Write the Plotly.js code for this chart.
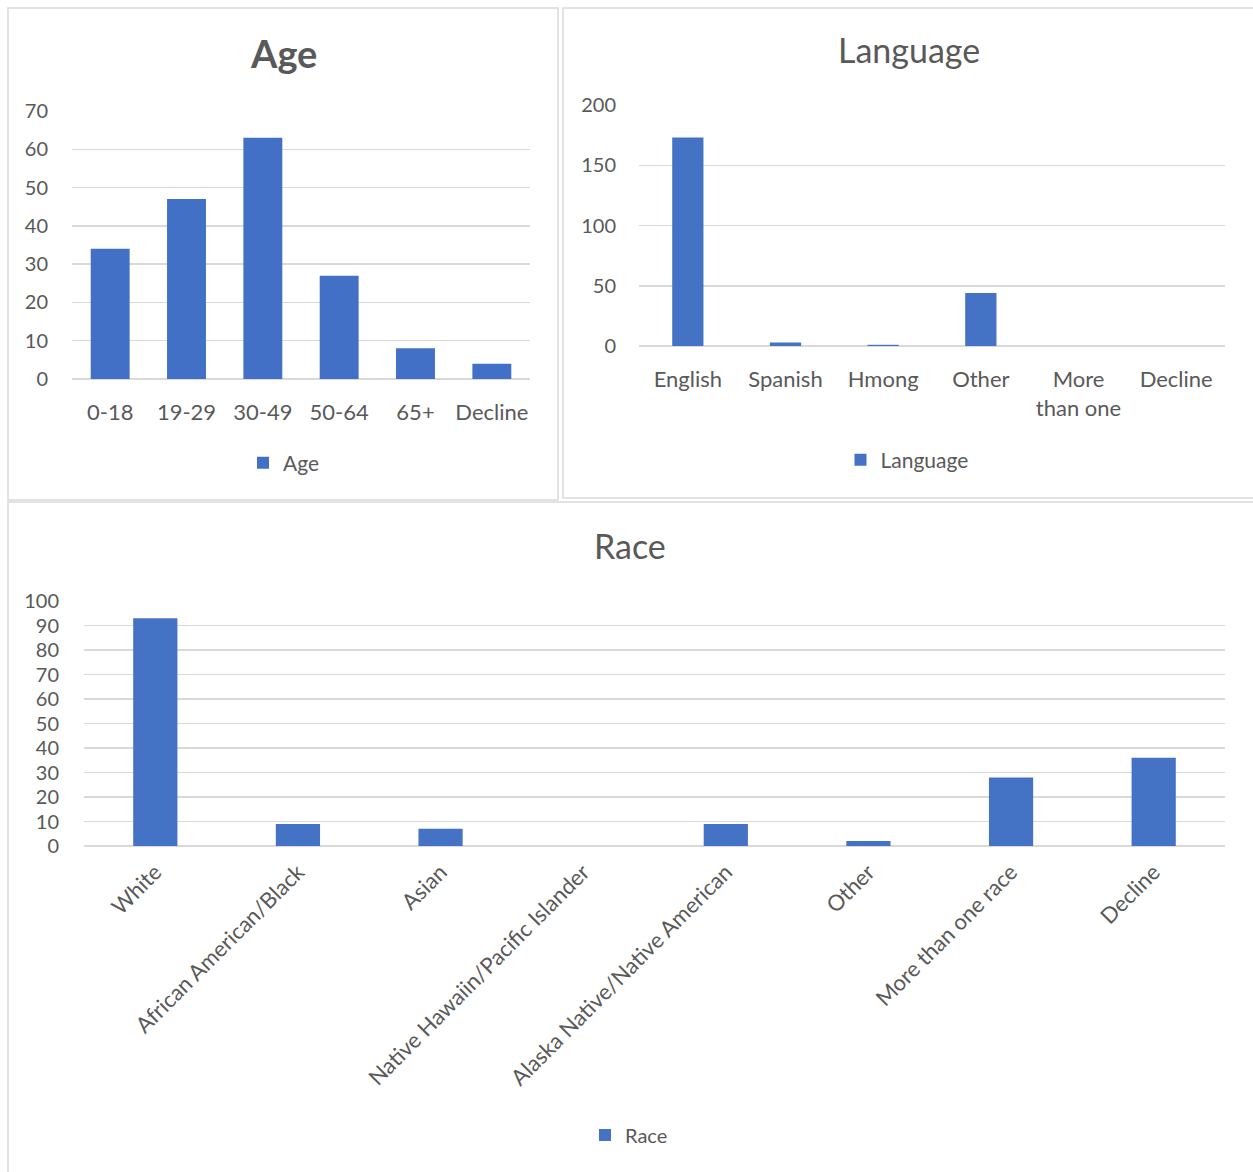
<!DOCTYPE html>
<html>
<head>
<meta charset="utf-8">
<script src="https://cdn.plot.ly/plotly-3.0.1.min.js"></script>
<style>
html,body{margin:0;padding:0;background:#fff;}
#chart{width:1253px;height:1172px;}
</style>
</head>
<body>
<div id="chart"></div>
<script>
// ---- data ----
const ageCategories = ["0-18", "19-29", "30-49", "50-64", "65+", "Decline"];
const ageValues = [34, 47, 63, 27, 8, 4];

const languageCategories = ["English", "Spanish", "Hmong", "Other", "More<br>than one", "Decline"];
const languageValues = [173, 3, 1, 44, 0, 0];

const raceCategories = ["White", "African American/Black", "Asian", "Native Hawaiin/Pacific Islander",
  "Alaska Native/Native American", "Other", "More than one race", "Decline"];
const raceValues = [93, 9, 7, 0, 9, 2, 28, 36];

// ---- layout helpers ----
const W = 1253, H = 1172;
const px = v => v / W;
const py = v => 1 - v / H;
const FONT = "Lato, 'Open Sans', sans-serif";
const TXT = "#595959";
const GRID = "#d9d9d9";
const BLUE = "#4472C4";

const traces = [
  {type: "bar", x: ageCategories, y: ageValues, name: "Age", xaxis: "x", yaxis: "y",
   marker: {color: "#4270c6", line: {width: 0}}, legend: "legend", hoverinfo: "x+y", width: 0.51},
  {type: "bar", x: languageCategories, y: languageValues, name: "Language", xaxis: "x2", yaxis: "y2",
   marker: {color: BLUE, line: {width: 0}}, legend: "legend2", hoverinfo: "x+y", width: 0.32},
  {type: "bar", x: raceCategories, y: raceValues, name: "Race", xaxis: "x3", yaxis: "y3",
   marker: {color: BLUE, line: {width: 0}}, legend: "legend3", hoverinfo: "x+y", width: 0.31}
];

function xaxis(domain, anchor, size, extra) {
  return Object.assign({
    domain: domain, anchor: anchor, type: "category", showgrid: false, zeroline: false,
    showline: false, ticks: "", automargin: false, fixedrange: true,
    tickfont: {family: FONT, size: size, color: TXT}
  }, extra || {});
}
function yaxis(domain, anchor, range, dtick, size, extra) {
  return Object.assign({
    domain: domain, anchor: anchor, range: range, dtick: dtick, tick0: 0,
    showgrid: true, gridcolor: GRID, gridwidth: 1.5, zeroline: true, zerolinecolor: GRID,
    zerolinewidth: 1.5, showline: false, ticks: "", automargin: false, fixedrange: true,
    tickfont: {family: FONT, size: size, color: TXT}
  }, extra || {});
}

const layout = {
  width: W, height: H,
  margin: {l: 0, r: 0, t: 0, b: 0, pad: 0},
  paper_bgcolor: "#fff", plot_bgcolor: "rgba(0,0,0,0)",
  font: {family: FONT, color: TXT},
  barmode: "group",
  showlegend: true,
  xaxis: xaxis([px(72), px(530)], "y", 22, {ticklabelstandoff: 18}),
  yaxis: yaxis([py(379), py(111)], "x", [0, 70], 10, 20, {ticklabelstandoff: 23}),
  xaxis2: xaxis([px(639), px(1225)], "y2", 22, {ticklabelstandoff: 18}),
  yaxis2: yaxis([py(346), py(105)], "x2", [0, 200], 50, 20, {ticklabelstandoff: 22}),
  xaxis3: xaxis([px(84), px(1225)], "y3", 22, {tickangle: -45, ticklabelstandoff: 8}),
  yaxis3: yaxis([py(846), py(601)], "x3", [0, 100], 10, 20, {ticklabelstandoff: 24}),
  legend: {x: px(284), y: py(463), xanchor: "center", yanchor: "middle", orientation: "h",
           font: {family: FONT, size: 21, color: TXT}, bgcolor: "rgba(0,0,0,0)", itemwidth: 30},
  legend2: {x: px(907), y: py(460), xanchor: "center", yanchor: "middle", orientation: "h",
            font: {family: FONT, size: 21, color: TXT}, bgcolor: "rgba(0,0,0,0)", itemwidth: 30},
  legend3: {x: px(629), y: py(1135), xanchor: "center", yanchor: "middle", orientation: "h",
            font: {family: FONT, size: 20, color: TXT}, bgcolor: "rgba(0,0,0,0)", itemwidth: 30},
  annotations: [
    {text: "<b>Age</b>", x: px(283), y: py(53), xref: "paper", yref: "paper", showarrow: false,
     xanchor: "center", yanchor: "middle", font: {family: FONT, size: 38, color: TXT}},
    {text: "Language", x: px(909), y: py(50), xref: "paper", yref: "paper", showarrow: false,
     xanchor: "center", yanchor: "middle", font: {family: FONT, size: 34, color: TXT}},
    {text: "Race", x: px(630), y: py(546), xref: "paper", yref: "paper", showarrow: false,
     xanchor: "center", yanchor: "middle", font: {family: FONT, size: 34, color: TXT}}
  ],
  shapes: [
    {type: "rect", xref: "paper", yref: "paper", x0: px(8), x1: px(558), y0: py(500), y1: py(8),
     line: {color: GRID, width: 1.5}, layer: "below"},
    {type: "rect", xref: "paper", yref: "paper", x0: px(563), x1: px(1255), y0: py(498), y1: py(8),
     line: {color: GRID, width: 1.5}, layer: "below"},
    {type: "rect", xref: "paper", yref: "paper", x0: px(8), x1: px(1255), y0: py(1174), y1: py(502),
     line: {color: GRID, width: 1.5}, layer: "below"}
  ]
};

Plotly.newPlot("chart", traces, layout, {displayModeBar: false, staticPlot: true});
</script>
</body>
</html>
